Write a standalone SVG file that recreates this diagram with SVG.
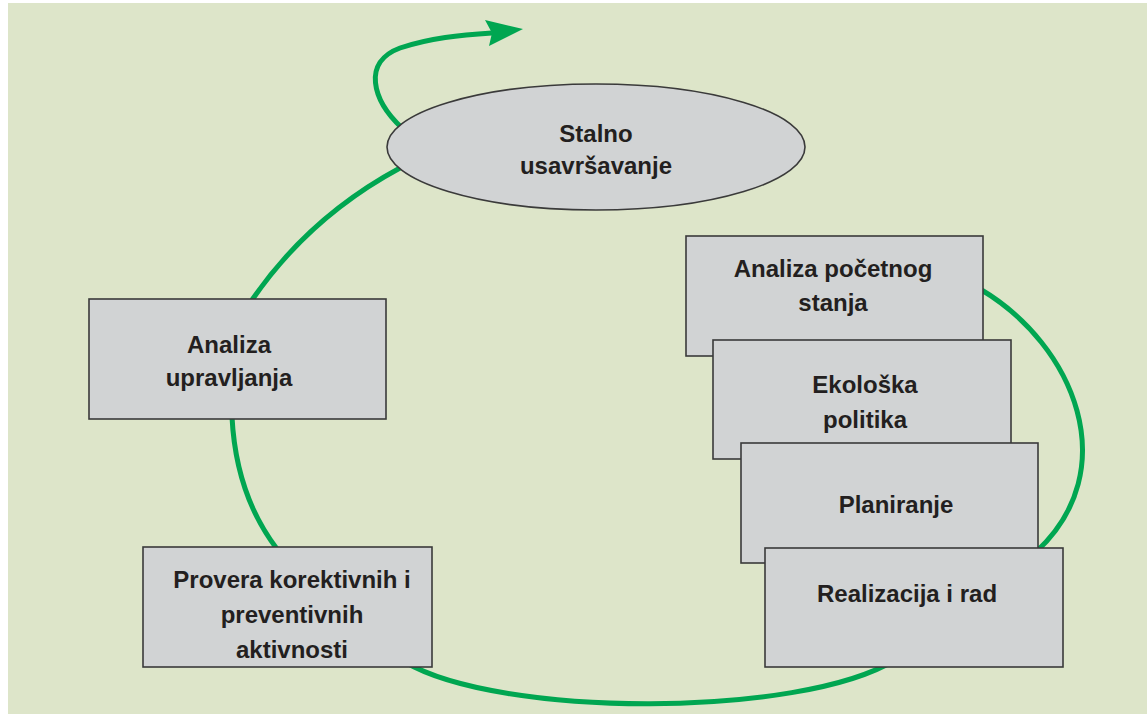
<svg xmlns="http://www.w3.org/2000/svg" width="1147" height="717" viewBox="0 0 1147 717">
<style>
.bg{fill:#dde5c9}
.box{fill:#d1d3d4;stroke:#3a3a3a;stroke-width:1.6}
.lbl{font-family:"Liberation Sans",Arial,sans-serif;font-weight:bold;font-size:24px;fill:#231f20;text-anchor:middle}
.flow{fill:none;stroke:#00a651;stroke-width:5;stroke-linecap:butt}
.head{fill:#00a651}
</style>
<rect x="0" y="0" width="1147" height="717" fill="#ffffff"/>
<rect class="bg" x="8" y="3" width="1139" height="711"/>
<g id="connectors">
<path class="flow" d="M402,128 C372,100 362,62 400,48 C430,38 460,35 492,33"/>
<polygon class="head" points="523,29 485,20 492,33 489,46"/>
<path class="flow" d="M400,168 Q309,217 252,300"/>
<path class="flow" d="M232,417 Q236,495 277,549"/>
<path class="flow" d="M405,662 C500,718 800,718 895,660"/>
<path class="flow" d="M980,289 C1075,345 1125,470 1036,552"/>
</g>
<g id="node-stalno">
<ellipse class="box" cx="596" cy="147" rx="209" ry="63"/>
<text class="lbl" x="596" y="142">Stalno</text>
<text class="lbl" x="596" y="174">usavršavanje</text>
</g>
<g id="node-analiza-upravljanja">
<rect class="box" x="89" y="299" width="297" height="120"/>
<text class="lbl" x="229" y="353">Analiza</text>
<text class="lbl" x="229" y="386">upravljanja</text>
</g>
<g id="node-provera">
<rect class="box" x="143" y="547" width="289" height="120"/>
<text class="lbl" x="292" y="588">Provera korektivnih i</text>
<text class="lbl" x="292" y="623">preventivnih</text>
<text class="lbl" x="292" y="658">aktivnosti</text>
</g>
<g id="node-analiza-pocetnog">
<rect class="box" x="686" y="236" width="297" height="120"/>
<text class="lbl" x="833" y="277">Analiza početnog</text>
<text class="lbl" x="833" y="311">stanja</text>
</g>
<g id="node-ekoloska">
<rect class="box" x="713" y="340" width="298" height="119"/>
<text class="lbl" x="865" y="393">Ekološka</text>
<text class="lbl" x="865" y="428">politika</text>
</g>
<g id="node-planiranje">
<rect class="box" x="741" y="443" width="297" height="120"/>
<text class="lbl" x="896" y="513">Planiranje</text>
</g>
<g id="node-realizacija">
<rect class="box" x="765" y="548" width="298" height="119"/>
<text class="lbl" x="907" y="602">Realizacija i rad</text>
</g>
</svg>
